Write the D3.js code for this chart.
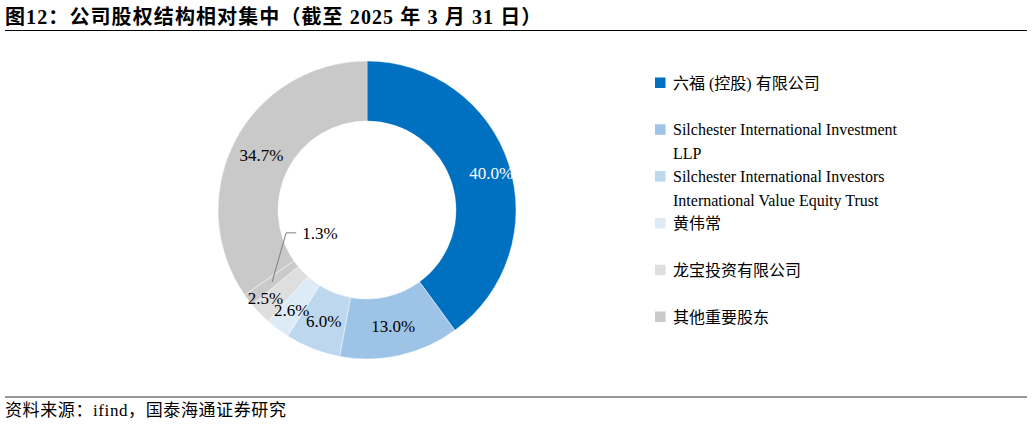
<!DOCTYPE html>
<html><head><meta charset="utf-8">
<script src="https://cdn.jsdelivr.net/npm/d3@7"></script>
<style>
html,body{margin:0;padding:0;background:#fff;}
svg{display:block;}
</style>
</head><body>
<svg id="c" width="1032" height="424"></svg>
<script>
const title = "图12：公司股权结构相对集中（截至 2025 年 3 月 31 日）";
const source = "资料来源：ifind，国泰海通证券研究";
const categories = ["六福 (控股) 有限公司", "Silchester International Investment LLP", "Silchester International Investors International Value Equity Trust", "黄伟常", "龙宝投资有限公司", "", "其他重要股东"];
const values = [40.0, 13.0, 6.0, 2.6, 2.5, 1.3, 34.7];
const valueLabels = ["40.0%", "13.0%", "6.0%", "2.6%", "2.5%", "1.3%", "34.7%"];
const legendLines = [["六福 (控股) 有限公司"], ["Silchester International Investment", "LLP"], ["Silchester International Investors", "International Value Equity Trust"], ["黄伟常"], ["龙宝投资有限公司"], ["其他重要股东"]];
const colors = ["#0070C0", "#9DC3E6", "#BDD7EE", "#DDEBF7", "#DEDEDE", "#CACACA", "#C9C9C9"];

const serif = "'Liberation Serif','Noto Sans CJK SC',serif";
const svg = d3.select("#c");

// title
svg.append("text").attr("x", 5).attr("y", 24)
  .style("font-family", serif).style("font-weight", "bold").style("font-size", "20px")
  .style("letter-spacing", "1.1px").attr("fill", "#000")
  .text(title);
svg.append("line").attr("x1", 5).attr("x2", 1027).attr("y1", 30.5).attr("y2", 30.5).attr("stroke", "#000").attr("stroke-width", 1.2);
svg.append("line").attr("x1", 5).attr("x2", 1027).attr("y1", 397).attr("y2", 397).attr("stroke", "#333").attr("stroke-width", 1.2);
svg.append("text").attr("x", 5).attr("y", 416)
  .style("font-family", serif).style("font-size", "17px").style("letter-spacing", "0.6px").attr("fill", "#000").text(source);

// donut
const cx = 367, cy = 210, R = 149, r0 = 89;
const g = svg.append("g").attr("transform", `translate(${cx},${cy})`);
const pie = d3.pie().sort(null).value(d => d)(values);
const arc = d3.arc().innerRadius(r0).outerRadius(R);
g.selectAll("path").data(pie).enter().append("path")
  .attr("d", arc).attr("fill", (d, i) => colors[i])
  .attr("stroke", "#fff").attr("stroke-width", 0.6).attr("stroke-opacity", 0.7);

const labelArc = d3.arc().innerRadius(119).outerRadius(119);
const nudge = {0: [11, 0], 3: [-4, 5], 4: [-16, 5]};
const labelFont = "17px";
pie.forEach((d, i) => {
  if (i === 5) return;
  let [x, y] = labelArc.centroid(d);
  const n = nudge[i] || [0, 0];
  x += n[0]; y += n[1];
  g.append("text").attr("x", x).attr("y", y).attr("dy", "0.35em")
    .attr("text-anchor", "middle")
    .style("font-family", serif).style("font-size", labelFont)
    .attr("fill", i === 0 ? "#fff" : "#000").text(valueLabels[i]);
});
// leader label for small slice
{
  const d = pie[5];
  const [x0, y0] = labelArc.centroid(d);
  const x1 = x0 + 14, y1 = y0 - 49, x2 = x1 + 10;
  g.append("polyline").attr("points", `${x0},${y0} ${x1},${y1} ${x2},${y1}`)
    .attr("fill", "none").attr("stroke", "#7f7f7f").attr("stroke-width", 1);
  g.append("text").attr("x", x2 + 6).attr("y", y1).attr("dy", "0.35em")
    .style("font-family", serif).style("font-size", labelFont).attr("fill", "#000").text(valueLabels[5]);
}

// legend
const legendIdx = [0, 1, 2, 3, 4, 6];
const ly = d3.scalePoint().domain(d3.range(legendIdx.length)).range([83, 317]);
legendIdx.forEach((ci, k) => {
  const y = ly(k);
  svg.append("rect").attr("x", 655).attr("y", y - 5.5).attr("width", 10.5).attr("height", 10.5).attr("fill", colors[ci]);
  legendLines[k].forEach((t, j) => {
    svg.append("text").attr("x", 673).attr("y", y + j * 23.5).attr("dy", "0.35em")
      .style("font-family", serif).style("font-size", "16px").attr("fill", "#000").text(t);
  });
});
</script>
</body></html>
